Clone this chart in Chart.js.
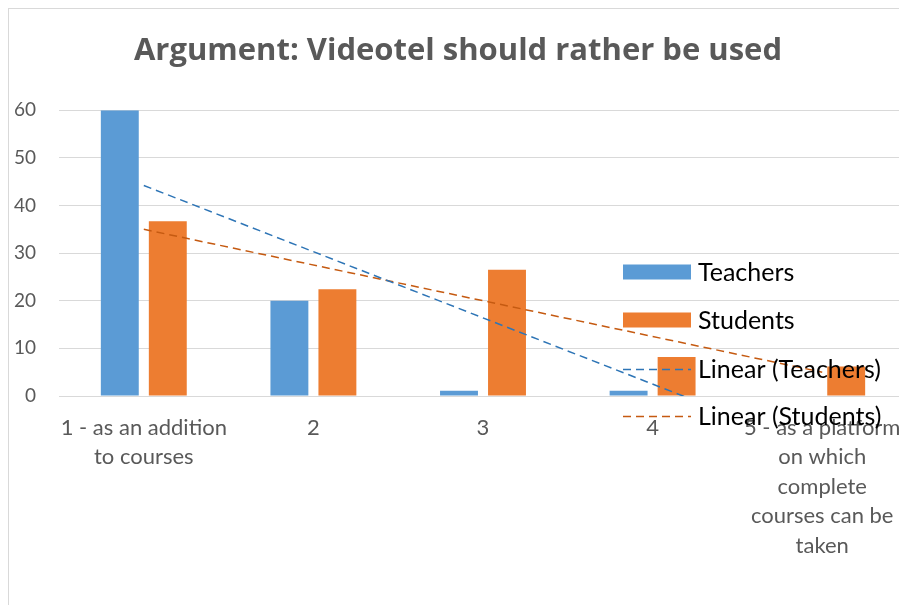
<!DOCTYPE html>
<html><head><meta charset="utf-8">
<script src="https://cdn.jsdelivr.net/npm/chart.js@4.4.1/dist/chart.umd.min.js"></script>
<style>
html,body{margin:0;padding:0;background:#fff;overflow:hidden;width:899px;height:605px;}
#box{position:absolute;left:8px;top:8px;width:912px;height:610px;border-left:1px solid #d9d9d9;border-top:1px solid #d9d9d9;}
#wrap{position:absolute;left:0;top:0;width:900px;height:597px;}
</style></head><body>
<div id="box"><div id="wrap"><canvas id="c"></canvas></div></div>
<script>
const titleText = 'Argument: Videotel should rather be used';
const categories = [
  ['1 - as an addition', 'to courses'],
  '2', '3', '4',
  ['5 - as a platform', 'on which', 'complete', 'courses can be', 'taken']
];
const teachers = [60, 20, 1.1, 1.1, 0];
const students = [36.7, 22.4, 26.5, 8.2, 6.2];
// trend lines (value at first and last category)
const trendTeachers = [44.2, null, null, null, -11.4];
const trendStudents = [35.0, null, null, null, 5.0];
const yTicks = [0, 10, 20, 30, 40, 50, 60];

const FONT = 'Lato, "Open Sans", sans-serif';

const customLegend = {
  id: 'customLegend',
  afterDraw(chart) {
    const ctx = chart.ctx;
    const items = [
      {ds: 0, type: 'box'},
      {ds: 1, type: 'box'},
      {ds: 2, type: 'line'},
      {ds: 3, type: 'line'}
    ];
    const x0 = 614, w = 68, tx = 689;
    const ys = [263, 311, 360, 407];
    ctx.save();
    ctx.font = '25px ' + FONT;
    ctx.textBaseline = 'middle';
    ctx.textAlign = 'left';
    items.forEach((it, i) => {
      const d = chart.data.datasets[it.ds];
      const y = ys[i];
      if (it.type === 'box') {
        ctx.fillStyle = d.backgroundColor;
        ctx.fillRect(x0, y - 7.5, w, 15);
      } else {
        ctx.strokeStyle = d.borderColor;
        ctx.lineWidth = d.borderWidth;
        ctx.setLineDash(d.borderDash);
        ctx.beginPath();
        ctx.moveTo(x0, y + 0.5);
        ctx.lineTo(x0 + w, y + 0.5);
        ctx.stroke();
        ctx.setLineDash([]);
      }
      ctx.fillStyle = '#000000';
      ctx.fillText(d.label, tx, y + 1);
    });
    ctx.restore();
  }
};

new Chart(document.getElementById('c'), {
  type: 'bar',
  data: {
    labels: categories,
    datasets: [
      {label: 'Teachers', data: teachers, backgroundColor: '#5b9bd5', order: 2,
       barPercentage: 0.79, categoryPercentage: 0.566},
      {label: 'Students', data: students, backgroundColor: '#ed7d31', order: 2,
       barPercentage: 0.79, categoryPercentage: 0.566},
      {label: 'Linear (Teachers)', type: 'line', data: trendTeachers, borderColor: '#2e75b6',
       borderWidth: 1.5, borderDash: [8, 5], pointRadius: 0, spanGaps: true, fill: false, order: 1},
      {label: 'Linear (Students)', type: 'line', data: trendStudents, borderColor: '#c55a11',
       borderWidth: 1.5, borderDash: [8, 5], pointRadius: 0, spanGaps: true, fill: false, order: 1}
    ]
  },
  options: {
    responsive: true,
    maintainAspectRatio: false,
    animation: false,
    layout: {padding: {left: 0, right: 2, top: 0, bottom: 0}},
    plugins: {
      legend: {display: false},
      tooltip: {enabled: false},
      title: {
        display: true, text: titleText, color: '#595959',
        font: {family: '"Open Sans", Lato, sans-serif', size: 31, weight: 'bold'},
        padding: {top: 24, bottom: 40}
      }
    },
    scales: {
      x: {
        offset: true,
        grid: {display: false, drawTicks: false},
        border: {display: false},
        ticks: {
          color: '#595959', autoSkip: false, maxRotation: 0, minRotation: 0,
          padding: 17, font: {family: FONT, size: 22, lineHeight: 1.34}
        },
        afterFit(scale) { scale.height = 210; scale.paddingLeft = 0; scale.paddingRight = 0; }
      },
      y: {
        min: 0, max: 60,
        afterBuildTicks(scale) { scale.ticks = yTicks.map(v => ({value: v})); },
        grid: {color: '#d9d9d9', lineWidth: 1, drawTicks: false},
        border: {display: false},
        ticks: {color: '#595959', padding: 23, font: {family: FONT, size: 19}},
        afterFit(scale) { scale.width = 50; }
      }
    }
  },
  plugins: [customLegend]
});
</script>
</body></html>
